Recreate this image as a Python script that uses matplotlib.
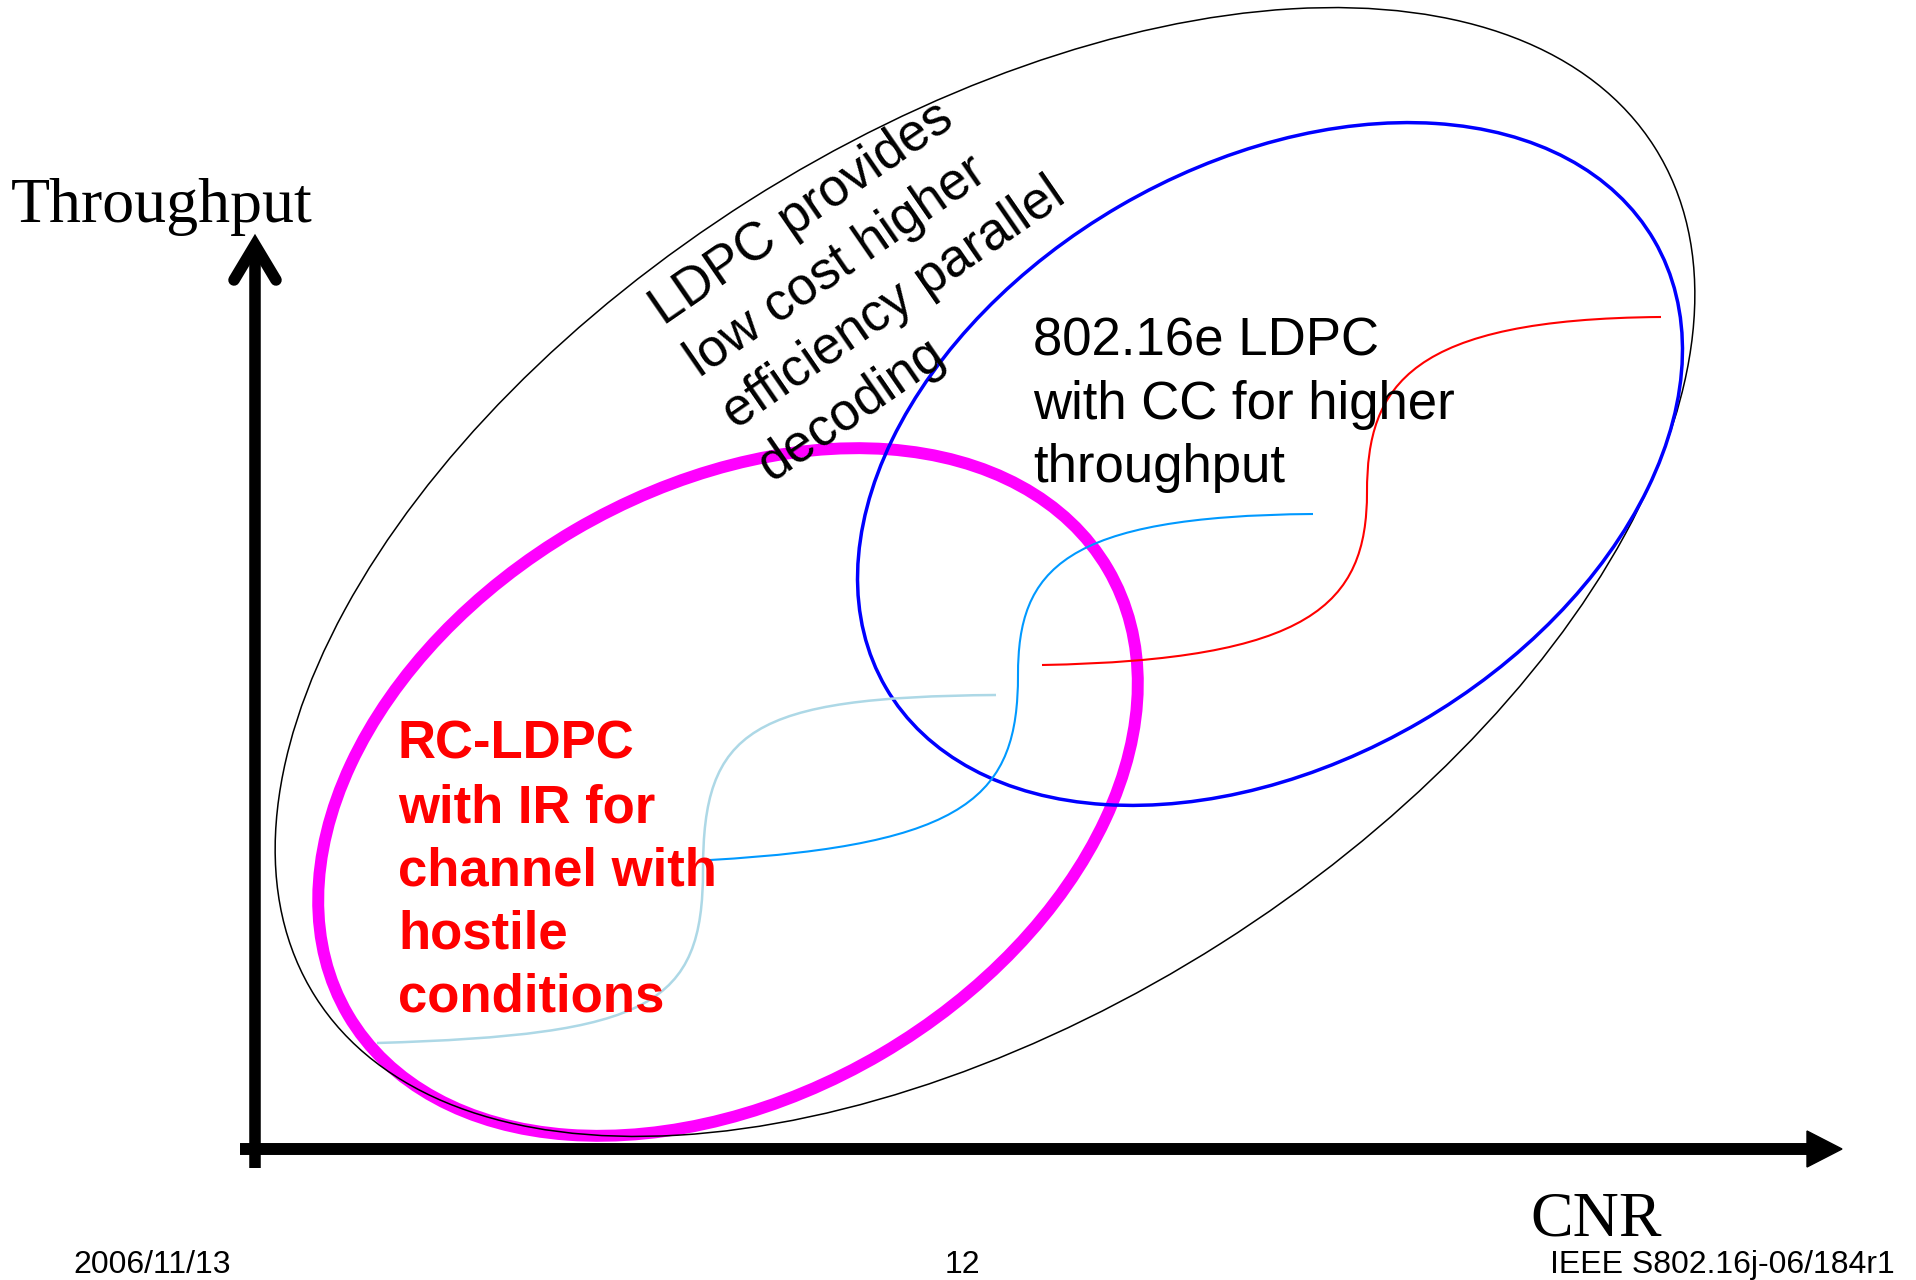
import matplotlib
matplotlib.use('Agg')
import matplotlib.pyplot as plt
from matplotlib.patches import Ellipse, PathPatch, Polygon
from matplotlib.path import Path

# regions drawn as rotated ellipses (picture pixels, y down)
region_cx = [985, 1270, 728]
region_cy = [572, 464, 792]
region_w = [1586, 889, 881]
region_h = [880, 597, 607]
region_angle = [32.4, 30.2, 30.4]
region_colors = ['black', '#0000FF', '#FF00FF']
region_lw = [1.1, 2.5, 8.6]
region_z = [2, 3, 1]

# throughput-vs-CNR step curves (start, ctrl, ctrl, middle, ctrl, ctrl, end)
curve_x = [
    [377, 650, 703, 703, 703, 750, 996],
    [710, 970, 1018, 1018, 1018, 1062, 1313],
    [1042, 1310, 1367, 1367, 1367, 1410, 1661],
]
curve_y = [
    [1043, 1035, 1005, 870, 730, 697, 695],
    [860, 845, 795, 675, 570, 516, 514],
    [665, 660, 605, 492, 385, 319, 317],
]
curve_colors = ['#ADD8E6', '#0099FF', '#FF0000']
curve_lw = [1.8, 1.5, 1.5]

label_ldpc = "LDPC provides\nlow cost higher\nefficiency parallel\ndecoding"
label_cc = "802.16e LDPC\nwith CC for higher\nthroughput"
label_rc = "RC-LDPC\nwith IR for\nchannel with\nhostile\nconditions"
footer = ["2006/11/13", "12", "IEEE S802.16j-06/184r1"]

fig = plt.figure(figsize=(19.16, 12.8), dpi=100)
ax = fig.add_axes([0, 0, 1, 1])
ax.set_xlim(0, 1916)
ax.set_ylim(1280, 0)
ax.axis('off')

for i in range(len(region_cx)):
    ax.add_patch(Ellipse((region_cx[i], region_cy[i]), region_w[i], region_h[i],
                         angle=-region_angle[i], fill=False,
                         edgecolor=region_colors[i], lw=region_lw[i],
                         zorder=region_z[i]))

codes = [Path.MOVETO] + [Path.CURVE4] * 6
for xs, ys, c, lw in zip(curve_x, curve_y, curve_colors, curve_lw):
    p = Path(list(zip(xs, ys)), codes)
    ax.add_patch(PathPatch(p, fill=False, edgecolor=c, lw=lw, zorder=4))

# axes arrows
ax.plot([255, 255], [1168, 245], color='black', lw=8.3,
        solid_capstyle='butt', zorder=6)
ax.plot([234, 255, 276], [280, 245, 280], color='black', lw=8.3,
        solid_capstyle='round', solid_joinstyle='miter', zorder=6)
ax.plot([240, 1810], [1149, 1149], color='black', lw=8.6,
        solid_capstyle='butt', zorder=6)
ax.add_patch(Polygon([(1807, 1131), (1842, 1149), (1807, 1167)],
                     closed=True, color='black', zorder=6))

serif = 'Liberation Serif'
sans = 'Liberation Sans'
ax.text(11, 222, "Throughput", fontsize=46, family=serif, va='baseline', ha='left')
ax.text(1530, 1236, "CNR", fontsize=46, family=serif, va='baseline', ha='left')

# multi-line labels are anchored at the baseline of their last line
ax.text(764, 471, label_ldpc, fontsize=38, family=sans, rotation=34.6,
        rotation_mode='anchor', ha='left', va='baseline', linespacing=1.34, zorder=5)
ax.text(1033, 482, label_cc, fontsize=38, family=sans, ha='left',
        va='baseline', linespacing=1.34, zorder=5)
ax.text(398, 1012, label_rc, fontsize=38, family=sans, weight='bold',
        color='#FF0000', ha='left', va='baseline', linespacing=1.34, zorder=5)

ax.text(73, 1273, footer[0], fontsize=23, family=sans, ha='left', va='baseline')
ax.text(962, 1273, footer[1], fontsize=23, family=sans, ha='center', va='baseline')
ax.text(1895, 1273, footer[2], fontsize=23, family=sans, ha='right', va='baseline')

fig.savefig('out.png', dpi=100, facecolor='white')
